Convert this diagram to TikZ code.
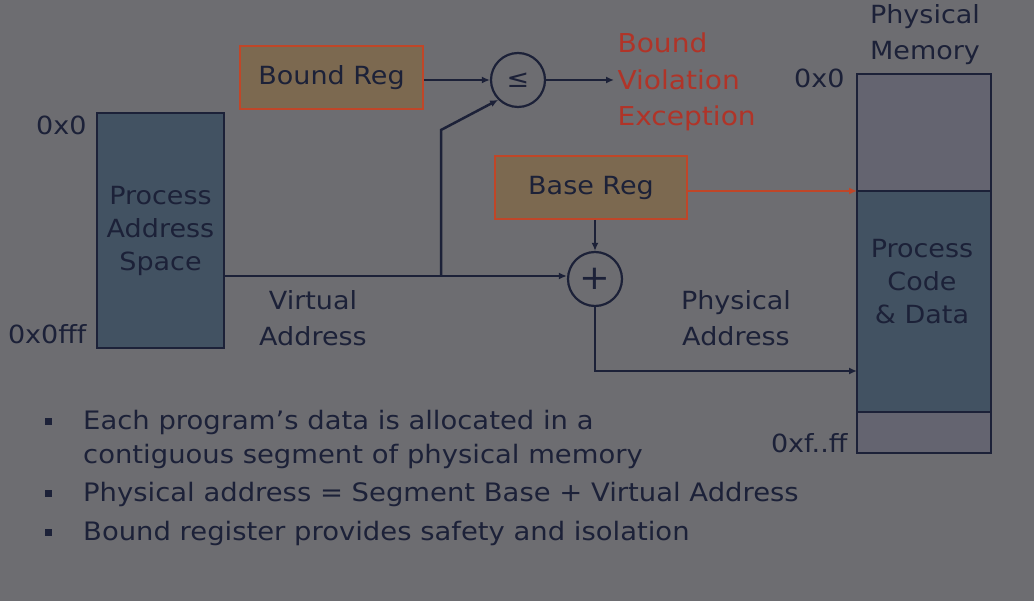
\documentclass[tikz,border=0pt]{standalone}
\usepackage{fontspec}
\setmainfont{DejaVu Sans}[FakeStretch=1.08]
\usetikzlibrary{arrows.meta,positioning}
\definecolor{slidebg}{RGB}{109,109,113}
\definecolor{ink}{RGB}{28,33,56}
\definecolor{regfill}{RGB}{124,105,80}
\definecolor{regline}{RGB}{192,70,40}
\definecolor{slate}{RGB}{66,82,98}
\definecolor{memgray}{RGB}{100,100,112}
\definecolor{alert}{RGB}{176,52,40}
\newcommand{\bulmark}{\makebox[43pt][l]{\hspace{5pt}\rule[4pt]{7pt}{7pt}}}

\begin{document}
\begin{tikzpicture}[x=1pt, y=-1pt, font=\fontsize{25}{33}\selectfont, text=ink,
  reg/.style={draw=regline, line width=2pt, fill=regfill, minimum width=183pt, minimum height=63pt},
  seg/.style={draw=ink, line width=2.5pt, fill=slate, outer sep=0pt, minimum width=134pt},
  op/.style={draw=ink, circle, line width=2.2pt, minimum size=54pt, inner sep=0pt},
  lbl/.style={align=center, font=\fontsize{25}{36}\selectfont},
  bul/.style={anchor=west, align=left, inner sep=0pt, font=\fontsize{25.4}{34}\selectfont},
  arr/.style={-{Latex[length=8pt,width=7pt]}, draw=ink, line width=2.5pt}]
  \fill[slidebg] (0,0) rectangle (1034,601);
  % address space of the process
  \node[seg, minimum width=127pt, minimum height=235pt, align=center] (pas) at (160.5,230.5) {Process\\Address\\Space};
  \node[anchor=east] (v0) at (90,125) {0x0};
  \node[anchor=east] (v1) at (90,334) {0x0fff};
  % registers and operators
  \node[reg] (bound) at (331.5,77.5) {Bound Reg};
  \node[reg, minimum width=192pt] (base) at (591,187.5) {Base Reg};
  \node[op] (le) at (518,80) {≤};
  \node[op, font=\fontsize{34}{34}\selectfont] (plus) at (595,279) {+};
  \node[text=alert, anchor=west, align=left, font=\fontsize{26}{36.5}\selectfont] (exc) at (614,82) {Bound\\Violation\\Exception};
  \node[lbl] (va) at (313,318) {Virtual\\Address};
  \node[lbl] (pa) at (736,318) {Physical\\Address};
  % physical memory
  \node[seg, fill=memgray, minimum height=117pt] (free1) at (924,132.5) {};
  \node[seg, minimum height=221pt, below=0pt of free1] (code) {};
  \node[seg, fill=memgray, minimum height=41pt, below=0pt of code] (free2) {};
  \node[align=center] (codetxt) at (922,282) {Process\\Code\\\& Data};
  \node[lbl] (pm) at (925,35) {Physical\\Memory};
  \node[anchor=east] (m0) at (848,78) {0x0};
  \node[anchor=east] (m1) at (851,443) {0xf..ff};
  \coordinate (fork) at (441,276);
  \coordinate (paddr) at (857,371);
  \draw[arr] (bound.east |- le) -- (le);
  \draw[arr] (le) -- (exc.west |- le);
  \draw[arr] (pas.east |- fork) -- (plus.west |- fork);
  \draw[arr] (fork) -- ++(0,-146) -- (le.south west);
  \draw[arr] (base.south -| plus) -- (plus);
  \draw[arr, draw=regline, line width=1.8pt] (base.east |- code.north west) -- (code.north west);
  \draw[arr] (plus) |- (paddr);
  % bullet points
  \node[bul] (b1) at (40,439) {\bulmark Each program’s data is allocated in a\\\hspace*{43pt}contiguous segment of physical memory};
  \node[bul] (b2) at (40,494) {\bulmark Physical address = Segment Base + Virtual Address};
  \node[bul] (b3) at (40,533) {\bulmark Bound register provides safety and isolation};
\end{tikzpicture}
\end{document}
